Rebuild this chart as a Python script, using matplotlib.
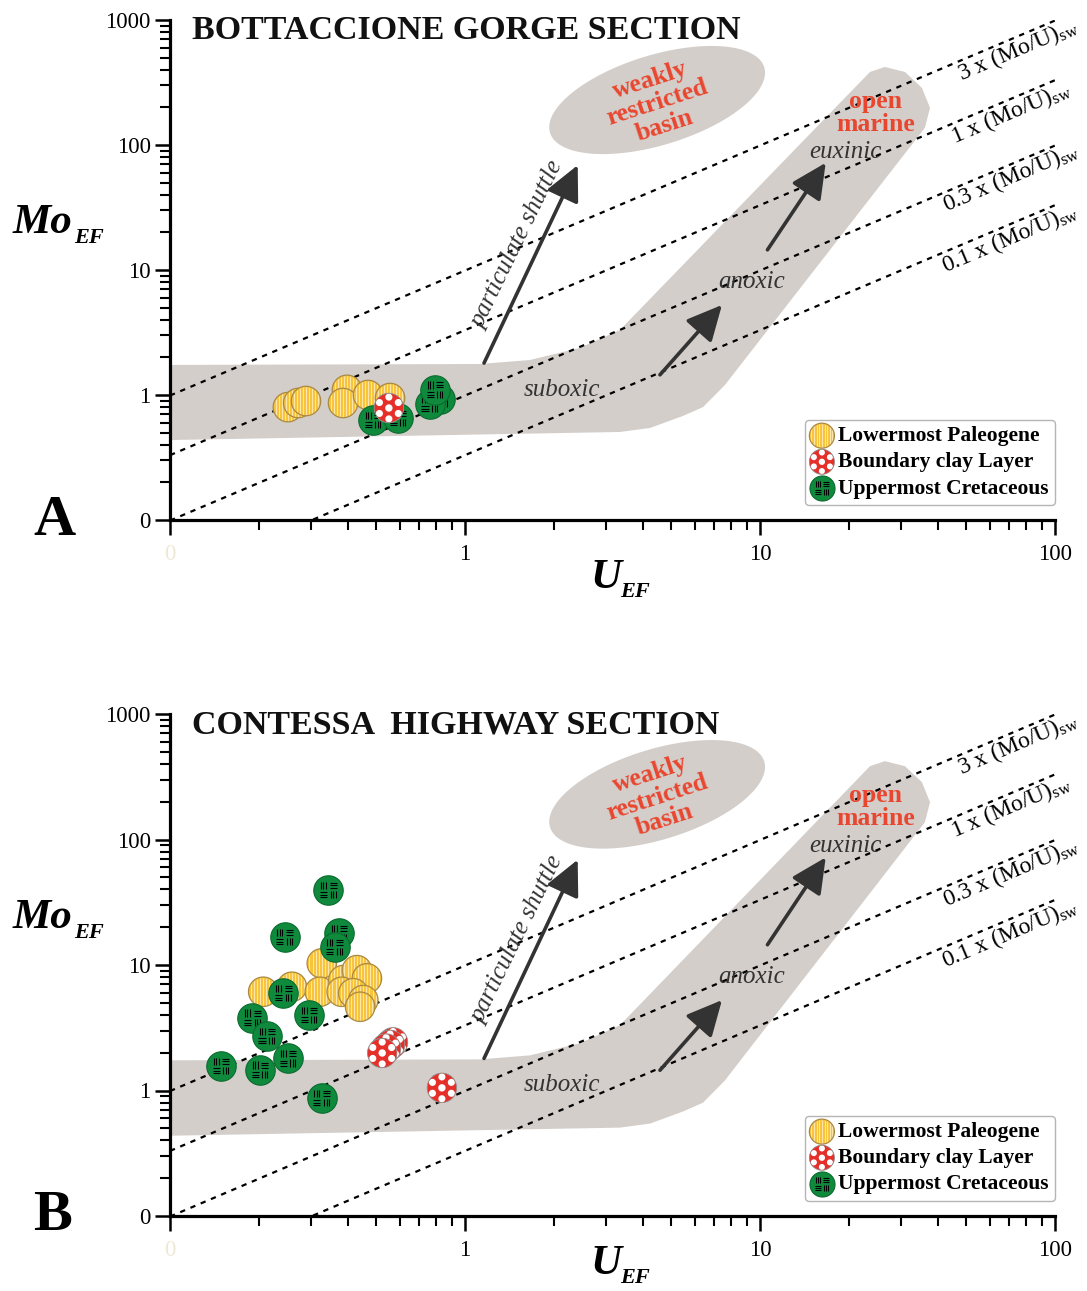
import numpy as np
import matplotlib
matplotlib.use('Agg')
import matplotlib.pyplot as plt
from matplotlib.path import Path
from matplotlib.ticker import LogLocator, NullFormatter

plt.rcParams['font.family'] = ['Liberation Serif', 'DejaVu Serif']
plt.rcParams['mathtext.fontset'] = 'custom'
plt.rcParams['mathtext.rm'] = 'Liberation Serif'
plt.rcParams['mathtext.it'] = 'Liberation Serif:italic'
plt.rcParams['mathtext.bf'] = 'Liberation Serif:bold'

# ---------------- data ----------------
# Panel A : Bottaccione Gorge
A_pal_u = [0.251, 0.272, 0.289, 0.398, 0.386, 0.469, 0.557]
A_pal_mo = [0.80, 0.863, 0.895, 1.10, 0.863, 1.00, 0.946]
A_cre_u = [0.488, 0.593, 0.82, 0.76, 0.791]
A_cre_mo = [0.63, 0.655, 0.93, 0.848, 1.10]
A_bcl_u = [0.552]
A_bcl_mo = [0.787]

# Panel B : Contessa Highway
B_pal_u = [0.327, 0.207, 0.259, 0.322, 0.387, 0.43, 0.465, 0.382, 0.418, 0.452, 0.441]
B_pal_mo = [10.3, 6.12, 6.71, 6.12, 7.59, 9.1, 7.83, 6.12, 5.96, 5.26, 4.65]
B_cre_u = [0.344, 0.245, 0.374, 0.362, 0.242, 0.296, 0.19, 0.213, 0.251, 0.202, 0.149, 0.327]
B_cre_mo = [39.6, 16.7, 18.0, 13.9, 5.98, 4.0, 3.79, 2.72, 1.81, 1.46, 1.57, 0.87]
B_bcl_u = [0.57, 0.557, 0.54, 0.524, 0.835]
B_bcl_mo = [2.42, 2.31, 2.16, 1.99, 1.05]

legend_labels = ['Lowermost Paleogene', 'Boundary clay Layer', 'Uppermost Cretaceous']
titles = ['BOTTACCIONE GORGE SECTION', 'CONTESSA  HIGHWAY SECTION']
panel_letters = ['A', 'B']

# reference lines  Mo = f * (Mo/U)sw * U
MOU_SW = 3.3
ratio_factors = [3, 1, 0.3, 0.1]
ratio_labels = ['3 x (Mo/U)', '1 x (Mo/U)', '0.3 x (Mo/U)', '0.1 x (Mo/U)']
ratio_label_u = [45.5, 43.0, 40.5, 40.0]

# grey "open marine" band (U_EF, Mo_EF)
band_u = [0.1, 1.124, 1.66, 2.45, 3.35, 23.6, 26.5, 31.0, 35.4, 37.7, 36.2,
          7.6, 6.41, 5.48, 4.24, 3.35, 0.1]
band_mo = [1.74, 1.77, 1.905, 2.38, 3.31, 384, 421, 384, 286, 198, 137,
           1.20, 0.80, 0.68, 0.545, 0.506, 0.436]
# weakly restricted basin ellipse centre
basin_u, basin_mo = 4.48, 229

# arrows (start, end)
arrow_start_u = [1.16, 4.58, 10.6]
arrow_start_mo = [1.80, 1.45, 14.5]
arrow_end_u = [2.41, 7.43, 16.7]
arrow_end_mo = [69, 5.25, 72]

xticks = [0.1, 1, 10, 100]
xtick_labels = ['0', '1', '10', '100']
yticks = [0.1, 1, 10, 100, 1000]
ytick_labels = ['0', '1', '10', '100', '1000']

# ---------------- style ----------------
YEL, YEL_E = '#F8C43C', '#A98A45'
RED = '#E5302A'
GRN, GRN_E = '#0F8A3D', '#0A6A2E'
GREY = '#D3CECA'
DARK = '#333333'
ORANGE = '#E9462F'
S = 450

W, H = 1087, 1291
fig = plt.figure(figsize=(W / 100, H / 100), dpi=100)


def fx(px):
    return px / W


def fy(py):
    return 1 - py / H


def circ(cx, cy, r, n=64, cw=False):
    t = np.linspace(0, 2 * np.pi, n, endpoint=False)
    if cw:
        t = -t
    return np.column_stack([cx + r * np.cos(t), cy + r * np.sin(t)])


def closed_path(polys):
    verts, codes = [], []
    for p in polys:
        verts += [tuple(v) for v in p] + [tuple(p[0])]
        codes += [Path.MOVETO] + [Path.LINETO] * (len(p) - 1) + [Path.CLOSEPOLY]
    return Path(np.array(verts, float), codes)


def seg_path(segs):
    verts = [(1, 0), (-1, 0), (0, 1), (0, -1)]
    codes = [Path.MOVETO] * 4
    for a, b in segs:
        verts += [a, b]
        codes += [Path.MOVETO, Path.LINETO]
    return Path(np.array(verts, float), codes)


CIRCLE = closed_path([circ(0, 0, 1)])
holes = [circ(0, 0, 0.25, cw=True)]
for a in np.deg2rad(np.arange(30, 390, 60)):
    holes.append(circ(0.74 * np.cos(a), 0.74 * np.sin(a), 0.24, cw=True))
RED_HOLED = closed_path([circ(0, 0, 1)] + holes)

stripe_segs = []
for xs in np.arange(-0.84, 0.85, 0.21):
    h = np.sqrt(max(1 - xs ** 2, 0)) * 0.96
    stripe_segs.append(((xs, -h), (xs, h)))
STRIPES = seg_path(stripe_segs)

weave = []
for (cx, cy, vert) in [(-0.33, 0.33, True), (0.33, 0.33, False), (-0.33, -0.33, False), (0.33, -0.33, True)]:
    for o in (-0.17, 0, 0.17):
        if vert:
            weave.append(((cx + o, cy - 0.24), (cx + o, cy + 0.24)))
        else:
            weave.append(((cx - 0.24, cy + o), (cx + 0.24, cy + o)))
WEAVE = seg_path(weave)


def draw_pal(ax, us, ms):
    h = None
    for u, m in zip(us, ms):
        a = ax.scatter([u], [m], s=S, marker=CIRCLE, facecolor=YEL, edgecolor='none', zorder=6)
        b = ax.scatter([u], [m], s=S, marker=STRIPES, facecolor='none', edgecolor='#FFF6DC', linewidths=0.5, zorder=6)
        c = ax.scatter([u], [m], s=S, marker=CIRCLE, facecolor='none', edgecolor=YEL_E, linewidths=0.9, zorder=6)
        h = h or (a, b, c)
    return h


def draw_cre(ax, us, ms):
    h = None
    for u, m in zip(us, ms):
        a = ax.scatter([u], [m], s=S, marker=CIRCLE, facecolor=GRN, edgecolor=GRN_E, linewidths=0.8, zorder=6)
        b = ax.scatter([u], [m], s=S, marker=WEAVE, facecolor='none', edgecolor='black', linewidths=0.8, zorder=6)
        h = h or (a, b)
    return h


def draw_bcl(ax, us, ms):
    h = None
    for u, m in zip(us, ms):
        a = ax.scatter([u], [m], s=S, marker=CIRCLE, facecolor='white', edgecolor='none', zorder=6)
        b = ax.scatter([u], [m], s=S, marker=RED_HOLED, facecolor=RED, edgecolor='none', zorder=6)
        c = ax.scatter([u], [m], s=S, marker=CIRCLE, facecolor='none', edgecolor='#8c8c8c', linewidths=0.6, zorder=6)
        h = h or (a, b, c)
    return h


DEC_X = 885 / 3.0
DEC_Y = 500 / 4.0
ANGLE = np.degrees(np.arctan(DEC_Y / DEC_X))


def setup_axes(ax):
    ax.set_xscale('log')
    ax.set_yscale('log')
    ax.set_xlim(0.1, 100)
    ax.set_ylim(0.1, 1000)
    for s in ['top', 'right']:
        ax.spines[s].set_visible(False)
    for s in ['left', 'bottom']:
        ax.spines[s].set_linewidth(2.3)
    ax.set_xticks(xticks)
    ax.set_xticklabels(xtick_labels)
    ax.set_yticks(yticks)
    ax.set_yticklabels(ytick_labels)
    ax.xaxis.set_minor_locator(LogLocator(base=10, subs=np.arange(2, 10), numticks=50))
    ax.yaxis.set_minor_locator(LogLocator(base=10, subs=np.arange(2, 10), numticks=50))
    ax.xaxis.set_minor_formatter(NullFormatter())
    ax.yaxis.set_minor_formatter(NullFormatter())
    ax.tick_params(which='major', length=11, width=1.8, labelsize=16.5, direction='out')
    ax.tick_params(axis='x', which='major', pad=6)
    ax.tick_params(axis='y', which='major', pad=3)
    ax.tick_params(which='minor', length=7, width=1.5, direction='out')
    ax.get_xticklabels()[0].set_color('#EEE8D5')
    ax.set_facecolor('none')


def draw_panel(ax, idx, pal, cre, bcl):
    setup_axes(ax)
    # grey band
    ax.fill(band_u, band_mo, color=GREY, lw=0, zorder=1)
    # ellipse in log space
    t = np.linspace(0, 2 * np.pi, 200)
    th = np.deg2rad(17)
    a, b = 112, 45
    dx = a * np.cos(t) * np.cos(th) - b * np.sin(t) * np.sin(th)
    dy = a * np.cos(t) * np.sin(th) + b * np.sin(t) * np.cos(th)
    eu = 10 ** (np.log10(basin_u) + dx / DEC_X)
    em = 10 ** (np.log10(basin_mo) + dy / DEC_Y)
    ax.fill(eu, em, color=GREY, lw=0, zorder=1)
    # reference lines
    uu = np.logspace(-1, 2, 50)
    for f, lab, ul in zip(ratio_factors, ratio_labels, ratio_label_u):
        ax.plot(uu, f * MOU_SW * uu, color='black', lw=1.6, ls=(0, (2.4, 2.6)), zorder=2)
        ax.text(ul, f * MOU_SW * ul, lab + r'$_{\mathrm{sw}}$', rotation=ANGLE,
                rotation_mode='anchor', ha='left', va='top', fontsize=17,
                color='black', clip_on=False, zorder=3)
    # arrows
    for su, sm, eu_, em_ in zip(arrow_start_u, arrow_start_mo, arrow_end_u, arrow_end_mo):
        ax.annotate('', xy=(eu_, em_), xytext=(su, sm),
                    arrowprops=dict(arrowstyle='-|>,head_length=0.45,head_width=0.22',
                                    lw=2.6, color=DARK, mutation_scale=48,
                                    shrinkA=0, shrinkB=0), zorder=4)
    # region texts
    ax.text(1.51, 15.8, 'particulate shuttle', rotation=64, ha='center', va='center',
            fontsize=18, style='italic', color=DARK, zorder=4)
    ax.text(2.13, 1.10, 'suboxic', ha='center', va='center', fontsize=18,
            style='italic', color=DARK, zorder=4)
    ax.text(9.4, 8.0, 'anoxic', ha='center', va='center', fontsize=18,
            style='italic', color=DARK, zorder=4)
    ax.text(19.5, 88, 'euxinic', ha='center', va='center', fontsize=18,
            style='italic', color=DARK, zorder=4)
    ax.text(24.7, 180, 'open\nmarine', ha='center', va='center', fontsize=18.5,
            fontweight='bold', color=ORANGE, linespacing=1.0, zorder=4)
    ax.text(basin_u, basin_mo * 0.95, 'weakly\nrestricted\nbasin', rotation=18, ha='center',
            va='center', fontsize=18.5, fontweight='bold', color=ORANGE,
            linespacing=1.05, rotation_mode='anchor', zorder=4)
    # title
    ax.text(0.025, 0.979, titles[idx], transform=ax.transAxes, ha='left', va='center',
            fontsize=24.5, fontweight='bold', color='#111111')
    # points
    hp = draw_pal(ax, *pal)
    hc = draw_cre(ax, *cre)
    hb = draw_bcl(ax, *bcl)
    leg = ax.legend([hp, hb, hc], legend_labels, loc='lower right',
                    bbox_to_anchor=(1.0, 0.03), borderaxespad=0, markerscale=0.85,
                    prop=dict(weight='bold', size=15.5), handlelength=1.0,
                    handletextpad=0.25, borderpad=0.3, labelspacing=0.28,
                    frameon=True, fancybox=True, framealpha=1, edgecolor='#B5B5B5',
                    scatterpoints=1)
    leg.get_frame().set_linewidth(1.0)
    leg.set_zorder(10)


axA = fig.add_axes([fx(170), fy(520), fx(1055) - fx(170), fy(20) - fy(520)])
axB = fig.add_axes([fx(170), fy(1216), fx(1055) - fx(170), fy(714) - fy(1216)])

draw_panel(axA, 0, (A_pal_u, A_pal_mo), (A_cre_u, A_cre_mo), (A_bcl_u, A_bcl_mo))
draw_panel(axB, 1, (B_pal_u, B_pal_mo), (B_cre_u, B_cre_mo), (B_bcl_u, B_bcl_mo))

for off, uoff, letter in zip([0, 695], [0, 686], panel_letters):
    fig.text(fx(13), fy(233 + off), 'Mo', fontsize=31, fontweight='bold', style='italic',
             ha='left', va='baseline')
    fig.text(fx(74), fy(243 + off), 'EF', fontsize=16, fontweight='bold', style='italic',
             ha='left', va='baseline')
    fig.text(fx(591), fy(588 + uoff), 'U', fontsize=31, fontweight='bold', style='italic',
             ha='left', va='baseline')
    fig.text(fx(620), fy(597 + uoff), 'EF', fontsize=16, fontweight='bold', style='italic',
             ha='left', va='baseline')
    fig.text(fx(33), fy(535 + off), letter, fontsize=42, fontweight='bold',
             ha='left', va='baseline')

fig.savefig('out.png', dpi=100)
